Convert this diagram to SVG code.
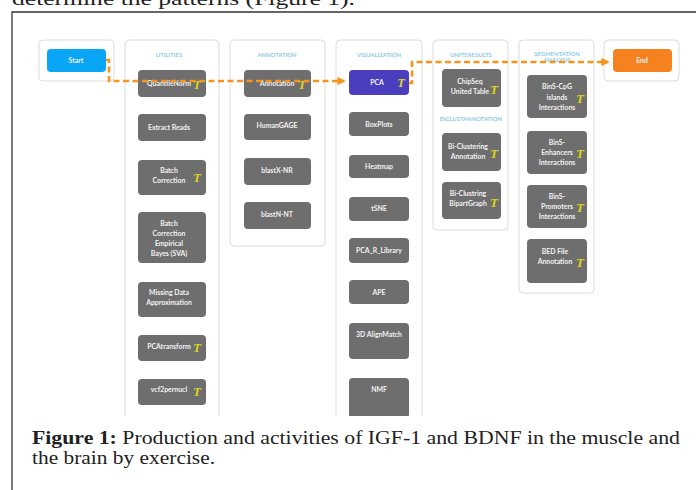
<svg xmlns="http://www.w3.org/2000/svg" width="696" height="490" viewBox="0 0 696 490">
  <defs>
    <style>
      .panel { fill: #ffffff; stroke: #dcdcdc; stroke-width: 1; }
      .node rect { fill: #6e6e6e; }
      .node text { fill: #f2f2f2; font-family: Lato, "Liberation Sans", sans-serif; font-size: 6.9px; font-weight: bold; text-anchor: middle; }
      .title { fill: #8ccbea; font-family: Lato, "Liberation Sans", sans-serif; font-size: 5.9px; font-weight: bold; text-anchor: middle; }
      .node text.tic { fill: #dcd41c; font-family: "Liberation Serif", serif; font-size: 13px; font-style: italic; font-weight: bold; text-anchor: middle; }
      .flow { fill: none; stroke: #f7941d; stroke-width: 2.6; stroke-dasharray: 6 3.5; }
      .cap { fill: #222; font-family: "Liberation Serif", serif; font-size: 19px; }
    </style>
    <marker id="arr" viewBox="0 0 10 10" refX="8" refY="5" markerWidth="3.2" markerHeight="3.2" orient="auto">
      <path d="M0,0 L10,5 L0,10 z" fill="#f7941d"/>
    </marker>
  </defs>

  <rect width="696" height="490" fill="#ffffff"/>

  <!-- running text above the figure -->
  <text x="12" y="5" class="cap" font-size="21" textLength="343" lengthAdjust="spacingAndGlyphs">determine the patterns (Figure 1).</text>

  <!-- figure frame -->
  <path d="M12,490 L12,12 L696,12" fill="none" stroke="#333" stroke-width="1.3"/>

  <!-- column panels -->
  <g id="panels">
    <rect class="panel" x="39" y="40" width="75" height="41" rx="4"/>
    <rect class="panel" x="125" y="40" width="94" height="400" rx="4"/>
    <rect class="panel" x="230" y="40" width="95" height="206" rx="4"/>
    <rect class="panel" x="336" y="40" width="86" height="400" rx="4"/>
    <rect class="panel" x="433" y="40" width="75" height="190" rx="4"/>
    <rect class="panel" x="519" y="40" width="75" height="253" rx="4"/>
    <rect class="panel" x="604" y="40" width="75" height="41" rx="4"/>
    <text class="title" x="169" y="57">UTILITIES</text>
    <text class="title" x="277" y="57">ANNOTATION</text>
    <text class="title" x="379" y="57">VISUALIZATION</text>
    <text class="title" x="471" y="57">UNITERESULTS</text>
    <text class="title" x="471" y="121">BICLUSTANNOTATION</text>
    <text class="title" x="557" y="56">SEGMENTATION</text>
    <text class="title" x="557" y="62">ANALYSIS</text>
  </g>

  <!-- start / end -->
  <g id="start" class="node">
    <rect x="47" y="49" width="59" height="23" rx="4" style="fill:#0aa6f6"/>
    <text x="76" y="63">Start</text>
  </g>
  <g id="end" class="node">
    <rect x="613" y="49" width="59" height="23" rx="4" style="fill:#f6821f"/>
    <text x="642" y="63">End</text>
  </g>

  <!-- UTILITIES -->
  <g id="quantilenorm" class="node">
    <rect x="138" y="70" width="68" height="27" rx="4"/>
    <text x="169" y="86">QuantileNorm</text>
    <text class="tic" x="197" y="89">T</text>
  </g>
  <g id="extract-reads" class="node">
    <rect x="138" y="114" width="68" height="27" rx="4"/>
    <text x="169" y="130">Extract Reads</text>
  </g>
  <g id="batch-correction" class="node">
    <rect x="138" y="160" width="68" height="35" rx="4"/>
    <text x="169" y="173">Batch</text>
    <text x="169" y="183">Correction</text>
    <text class="tic" x="197" y="182">T</text>
  </g>
  <g id="batch-eb" class="node">
    <rect x="138" y="212" width="68" height="51" rx="4"/>
    <text x="169" y="226">Batch</text>
    <text x="169" y="236">Correction</text>
    <text x="169" y="246">Empirical</text>
    <text x="169" y="256">Bayes (SVA)</text>
  </g>
  <g id="missing-data" class="node">
    <rect x="138" y="282" width="68" height="35" rx="4"/>
    <text x="169" y="295">Missing Data</text>
    <text x="169" y="305">Approximation</text>
  </g>
  <g id="pcatransform" class="node">
    <rect x="138" y="335" width="68" height="26" rx="4"/>
    <text x="169" y="349">PCAtransform</text>
    <text class="tic" x="197" y="352">T</text>
  </g>
  <g id="vcf2pernucl" class="node">
    <rect x="138" y="379" width="68" height="26" rx="4"/>
    <text x="169" y="392">vcf2pernucl</text>
    <text class="tic" x="197" y="396">T</text>
  </g>

  <!-- ANNOTATION -->
  <g id="annotation" class="node">
    <rect x="244" y="70" width="67" height="27" rx="4"/>
    <text x="277" y="86">Annotation</text>
    <text class="tic" x="302" y="89">T</text>
  </g>
  <g id="humangage" class="node">
    <rect x="244" y="114" width="67" height="26" rx="4"/>
    <text x="277" y="128">HumanGAGE</text>
  </g>
  <g id="blastx-nr" class="node">
    <rect x="244" y="158" width="67" height="27" rx="4"/>
    <text x="277" y="173">blastX-NR</text>
  </g>
  <g id="blastn-nt" class="node">
    <rect x="244" y="202" width="67" height="27" rx="4"/>
    <text x="277" y="217">blastN-NT</text>
  </g>

  <!-- VISUALIZATION -->
  <g id="pca" class="node">
    <rect x="349" y="70" width="60" height="25" rx="4" style="fill:#4a3ebf"/>
    <text x="377" y="85">PCA</text>
    <text class="tic" x="401" y="87">T</text>
  </g>
  <g id="boxplots" class="node">
    <rect x="349" y="112" width="60" height="24" rx="4"/>
    <text x="379" y="127">BoxPlots</text>
  </g>
  <g id="heatmap" class="node">
    <rect x="349" y="155" width="60" height="23" rx="4"/>
    <text x="379" y="169">Heatmap</text>
  </g>
  <g id="tsne" class="node">
    <rect x="349" y="197" width="60" height="24" rx="4"/>
    <text x="379" y="211">tSNE</text>
  </g>
  <g id="pca-r-library" class="node">
    <rect x="349" y="238" width="60" height="25" rx="4"/>
    <text x="379" y="253">PCA_R_Library</text>
  </g>
  <g id="ape" class="node">
    <rect x="349" y="280" width="60" height="24" rx="4"/>
    <text x="379" y="295">APE</text>
  </g>
  <g id="alignmatch" class="node">
    <rect x="349" y="323" width="60" height="36" rx="4"/>
    <text x="379" y="337">3D AlignMatch</text>
  </g>
  <g id="nmf" class="node">
    <rect x="349" y="378" width="60" height="40" rx="4"/>
    <text x="379" y="392">NMF</text>
  </g>

  <!-- UNITERESULTS -->
  <g id="chipseq" class="node">
    <rect x="442" y="69" width="59" height="38" rx="4"/>
    <text x="470" y="84">ChipSeq</text>
    <text x="470" y="94">United Table</text>
    <text class="tic" x="494" y="94">T</text>
  </g>
  <g id="bi-clustering" class="node">
    <rect x="442" y="133" width="59" height="38" rx="4"/>
    <text x="468" y="149">Bi-Clustering</text>
    <text x="468" y="159">Annotation</text>
    <text class="tic" x="494" y="158">T</text>
  </g>
  <g id="bipartgraph" class="node">
    <rect x="442" y="182" width="59" height="37" rx="4"/>
    <text x="468" y="196">Bi-Clustring</text>
    <text x="468" y="206">BipartGraph</text>
    <text class="tic" x="494" y="207">T</text>
  </g>

  <!-- SEGMENTATION ANALYSIS -->
  <g id="bins-cpg" class="node">
    <rect x="527" y="75" width="60" height="43" rx="4"/>
    <text x="557" y="89">BinS-CpG</text>
    <text x="557" y="100">islands</text>
    <text x="557" y="110">Interactions</text>
    <text class="tic" x="580" y="103">T</text>
  </g>
  <g id="bins-enhancers" class="node">
    <rect x="527" y="131" width="60" height="43" rx="4"/>
    <text x="557" y="145">BinS-</text>
    <text x="557" y="155">Enhancers</text>
    <text x="557" y="165">Interactions</text>
    <text class="tic" x="580" y="158">T</text>
  </g>
  <g id="bins-promoters" class="node">
    <rect x="527" y="185" width="60" height="43" rx="4"/>
    <text x="557" y="199">BinS-</text>
    <text x="557" y="209">Promoters</text>
    <text x="557" y="219">Interactions</text>
    <text class="tic" x="580" y="212">T</text>
  </g>
  <g id="bed-file" class="node">
    <rect x="527" y="239" width="60" height="44" rx="4"/>
    <text x="555" y="254">BED File</text>
    <text x="555" y="264">Annotation</text>
    <text class="tic" x="580" y="267">T</text>
  </g>

  <!-- workflow path -->
  <g id="connectors">
    <path class="flow" d="M106,60 L109,60 L109,81 L344,81" marker-end="url(#arr)"/>
    <path class="flow" d="M409,83 L412,83 L412,62 L608,62" marker-end="url(#arr)"/>
  </g>

  <!-- caption area -->
  <rect x="13" y="416" width="683" height="74" fill="#ffffff"/>
  <text class="cap" x="32" y="444" textLength="648" lengthAdjust="spacingAndGlyphs"><tspan font-weight="bold">Figure 1:</tspan> Production and activities of IGF-1 and BDNF in the muscle and</text>
  <text class="cap" x="32" y="464" textLength="183" lengthAdjust="spacingAndGlyphs">the brain by exercise.</text>
</svg>
